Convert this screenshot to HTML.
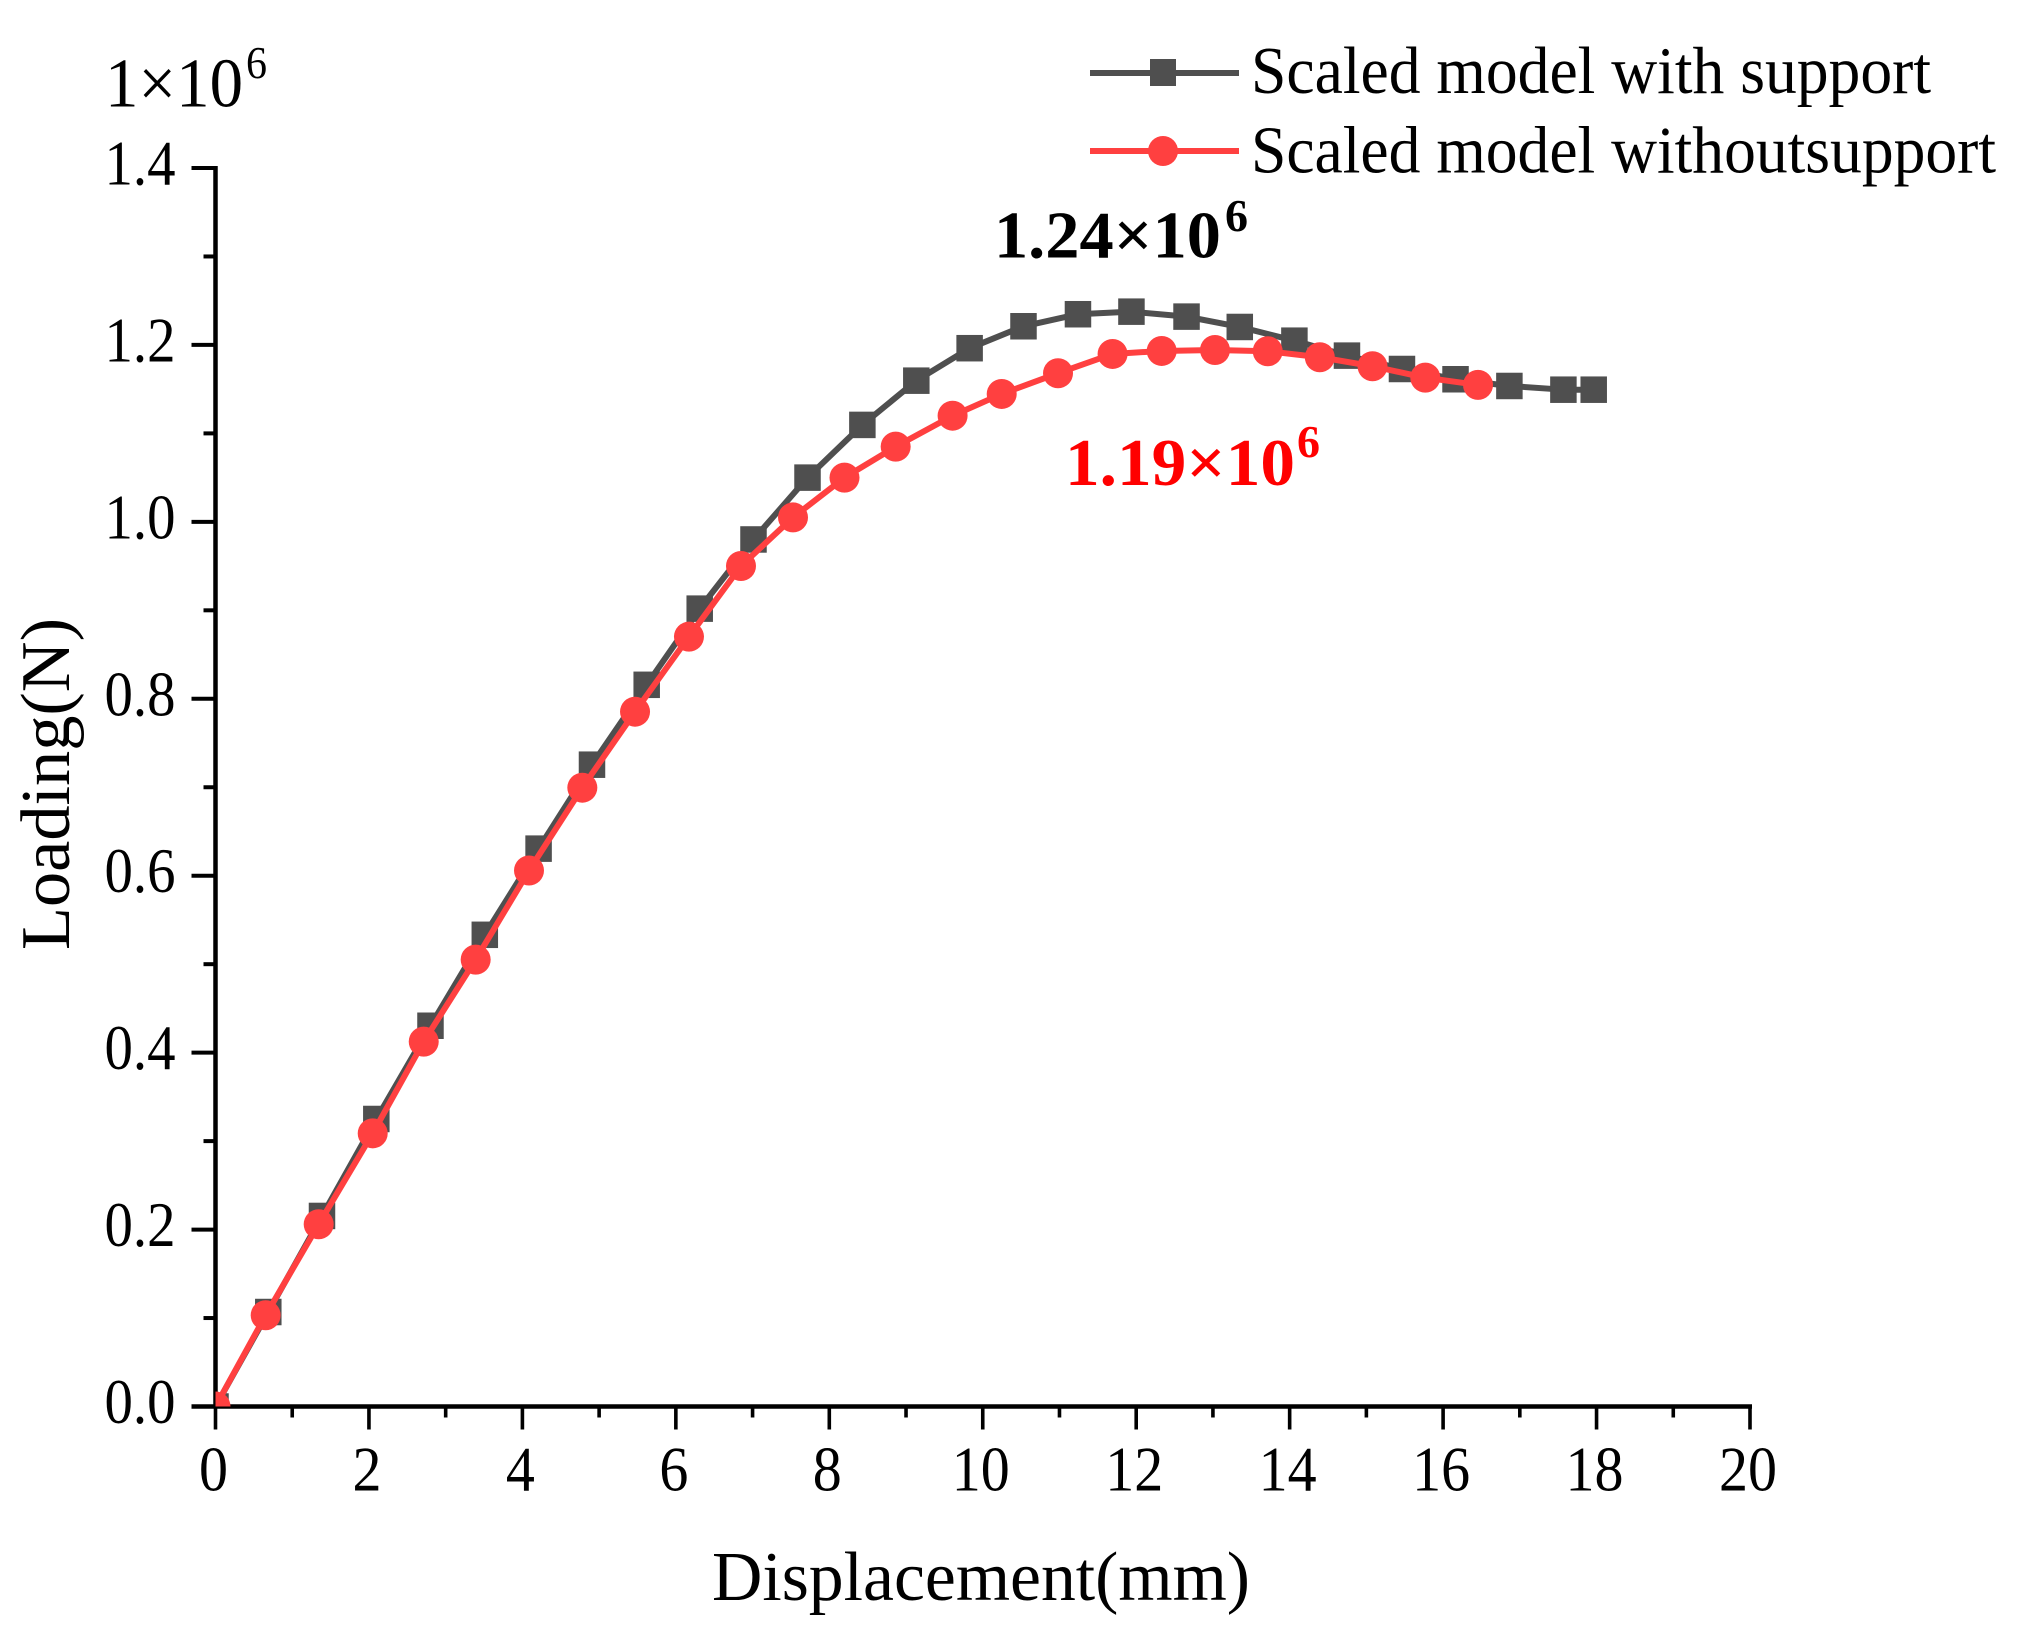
<!DOCTYPE html>
<html lang="en">
<head>
<meta charset="utf-8">
<title>Loading vs Displacement</title>
<style>
html,body{margin:0;padding:0;background:#fff;}
svg{display:block;}
text{font-family:"Liberation Serif","Times New Roman",serif;fill:#000;}
</style>
</head>
<body>
<svg id="chart" xmlns="http://www.w3.org/2000/svg" width="2022" height="1637" viewBox="0 0 2022 1637">
  <rect x="0" y="0" width="2022" height="1637" fill="#fff"/>
  <defs>
    <clipPath id="plot-clip"><rect x="215.5" y="120" width="1540" height="1286.5"/></clipPath>
  </defs>
  <g id="axes"></g>
  <g id="series" clip-path="url(#plot-clip)"></g>

  <g>
    <text x="105" y="106.5" font-size="70" textLength="138" lengthAdjust="spacingAndGlyphs">1×10</text>
    <text x="246" y="78" font-size="46" textLength="21" lengthAdjust="spacingAndGlyphs">6</text>
  </g>
  <text x="712" y="1600" font-size="70" textLength="538" lengthAdjust="spacingAndGlyphs">Displacement(mm)</text>
  <text transform="translate(69,950) rotate(-90)" font-size="70" textLength="332" lengthAdjust="spacingAndGlyphs">Loading(N)</text>

  <g>
    <text x="994" y="257.5" font-size="67" font-weight="bold" textLength="227" lengthAdjust="spacingAndGlyphs">1.24×10</text>
    <text x="1225" y="231" font-size="46" font-weight="bold" textLength="23" lengthAdjust="spacingAndGlyphs">6</text>
  </g>
  <g>
    <text x="1065" y="485" font-size="67" font-weight="bold" style="fill:#ff0000" textLength="230" lengthAdjust="spacingAndGlyphs">1.19×10</text>
    <text x="1297" y="457" font-size="46" font-weight="bold" style="fill:#ff0000" textLength="23" lengthAdjust="spacingAndGlyphs">6</text>
  </g>

  <g>
    <g>
      <line x1="1090" y1="73" x2="1239" y2="73" stroke="#4f4f4f" stroke-width="6"/>
      <rect x="1150" y="59" width="26" height="27" fill="#4f4f4f"/>
      <text x="1251" y="93" font-size="67" textLength="680" lengthAdjust="spacingAndGlyphs">Scaled model with support</text>
    </g>
    <g>
      <line x1="1090" y1="151" x2="1239" y2="151" stroke="#ff4040" stroke-width="6"/>
      <circle cx="1163" cy="151" r="15" fill="#ff4040"/>
      <text x="1251" y="172.5" font-size="67" textLength="745" lengthAdjust="spacingAndGlyphs">Scaled model withoutsupport</text>
    </g>
  </g>
</svg>
<script>
// Chart data
const xTickLabels = ["0","2","4","6","8","10","12","14","16","18","20"];
const yTickLabels = ["0.0","0.2","0.4","0.6","0.8","1.0","1.2","1.4"];
const xMinorTicks = [1,3,5,7,9,11,13,15,17,19];
const yMinorTicks = [0.1,0.3,0.5,0.7,0.9,1.1,1.3];

const displacementWithSupport = [0,0.688,1.388,2.096,2.802,3.510,4.211,4.907,5.620,6.311,7.012,7.716,8.431,9.134,9.829,10.531,11.241,11.938,12.656,13.350,14.062,14.747,15.464,16.162,16.864,17.568,17.963];
const loadWithSupport = [0,0.1068,0.2154,0.3250,0.4304,0.5332,0.6306,0.7255,0.8158,0.9019,0.9801,1.0500,1.1096,1.1596,1.1963,1.2211,1.2347,1.2376,1.2320,1.2203,1.2048,1.1879,1.1728,1.1612,1.1536,1.1494,1.1494];

const displacementWithoutSupport = [0,0.654,1.345,2.049,2.714,3.391,4.086,4.781,5.468,6.171,6.849,7.527,8.198,8.865,9.607,10.247,10.981,11.692,12.332,13.027,13.714,14.393,15.080,15.768,16.455];
const loadWithoutSupport = [0,0.1032,0.2060,0.3088,0.4125,0.5051,0.6059,0.6995,0.7854,0.8702,0.9501,1.0050,1.0500,1.0850,1.1200,1.1446,1.1680,1.1898,1.1932,1.1943,1.1929,1.1861,1.1759,1.1630,1.1548];

const NS = "http://www.w3.org/2000/svg";
const X0 = 215.5, X1 = 1750, Y0 = 1406.5, Y1 = 168;
function xScale(v){ return X0 + (v / 20) * (X1 - X0); }
function yScale(v){ return Y0 - (v / 1.4) * (Y0 - Y1); }

const axes = document.getElementById("axes");
const series = document.getElementById("series");

function drawLine(parent, x1, y1, x2, y2, w){
  const l = document.createElementNS(NS, "line");
  l.setAttribute("x1", x1);
  l.setAttribute("y1", y1);
  l.setAttribute("x2", x2);
  l.setAttribute("y2", y2);
  l.setAttribute("stroke", "#000");
  l.setAttribute("stroke-width", w);
  parent.appendChild(l);
  return l;
}
function drawLabel(parent, x, y, anchor, str){
  const t = document.createElementNS(NS, "text");
  t.setAttribute("x", x);
  t.setAttribute("y", y);
  t.setAttribute("text-anchor", anchor);
  t.setAttribute("font-size", "63");
  t.setAttribute("textLength", str.length === 1 ? 29 : (str.length === 2 ? 58 : 71));
  t.setAttribute("lengthAdjust", "spacingAndGlyphs");
  t.textContent = str;
  parent.appendChild(t);
  return t;
}

const yAxisLine = drawLine(axes, X0, Y1 - 2, X0, Y0 + 2, 4.5);


const xAxisLine = drawLine(axes, X0 - 24, Y0, X1 + 2, Y0, 4.5);



xTickLabels.forEach(function(label){
  const v = parseFloat(label);
  const px = xScale(v);
  const tick = drawLine(axes, px, Y0, px, Y0 + 23, 3.6);
  
  
  const txt = drawLabel(axes, px - 2, 1490.5, "middle", label);
  
  
});
xMinorTicks.forEach(function(v){
  const px = xScale(v);
  const tick = drawLine(axes, px, Y0, px, Y0 + 11, 3.6);
  
  
});
yTickLabels.forEach(function(label){
  const v = parseFloat(label);
  const py = yScale(v);
  const tick = drawLine(axes, X0 - 24, py, X0, py, 4);
  
  
  const txt = drawLabel(axes, 175.5, py + 16.5, "end", label);
  
  
});
yMinorTicks.forEach(function(v){
  const py = yScale(v);
  const tick = drawLine(axes, X0 - 12, py, X0, py, 4);
  
  
});

function pointsFor(xs, ys){
  return xs.map(function(x, i){ return xScale(x).toFixed(2) + "," + yScale(ys[i]).toFixed(2); }).join(" ");
}

// Series with support (dark, squares)
const lineA = document.createElementNS(NS, "polyline");


lineA.setAttribute("points", pointsFor(displacementWithSupport, loadWithSupport));
lineA.setAttribute("fill", "none");
lineA.setAttribute("stroke", "#4f4f4f");
lineA.setAttribute("stroke-width", "6");
lineA.setAttribute("stroke-linejoin", "round");
series.appendChild(lineA);
displacementWithSupport.forEach(function(x, i){
  const r = document.createElementNS(NS, "rect");
  
  
  r.setAttribute("x", xScale(x) - 13.25);
  r.setAttribute("y", yScale(loadWithSupport[i]) - 13.25);
  r.setAttribute("width", 26.5);
  r.setAttribute("height", 26.5);
  r.setAttribute("fill", "#4f4f4f");
  series.appendChild(r);
});

// Series without support (red, circles)
const lineB = document.createElementNS(NS, "polyline");


lineB.setAttribute("points", pointsFor(displacementWithoutSupport, loadWithoutSupport));
lineB.setAttribute("fill", "none");
lineB.setAttribute("stroke", "#ff4040");
lineB.setAttribute("stroke-width", "6");
lineB.setAttribute("stroke-linejoin", "round");
series.appendChild(lineB);
displacementWithoutSupport.forEach(function(x, i){
  const c = document.createElementNS(NS, "circle");
  
  
  c.setAttribute("cx", xScale(x));
  c.setAttribute("cy", yScale(loadWithoutSupport[i]));
  c.setAttribute("r", 15);
  c.setAttribute("fill", "#ff4040");
  series.appendChild(c);
});
</script>
</body>
</html>
